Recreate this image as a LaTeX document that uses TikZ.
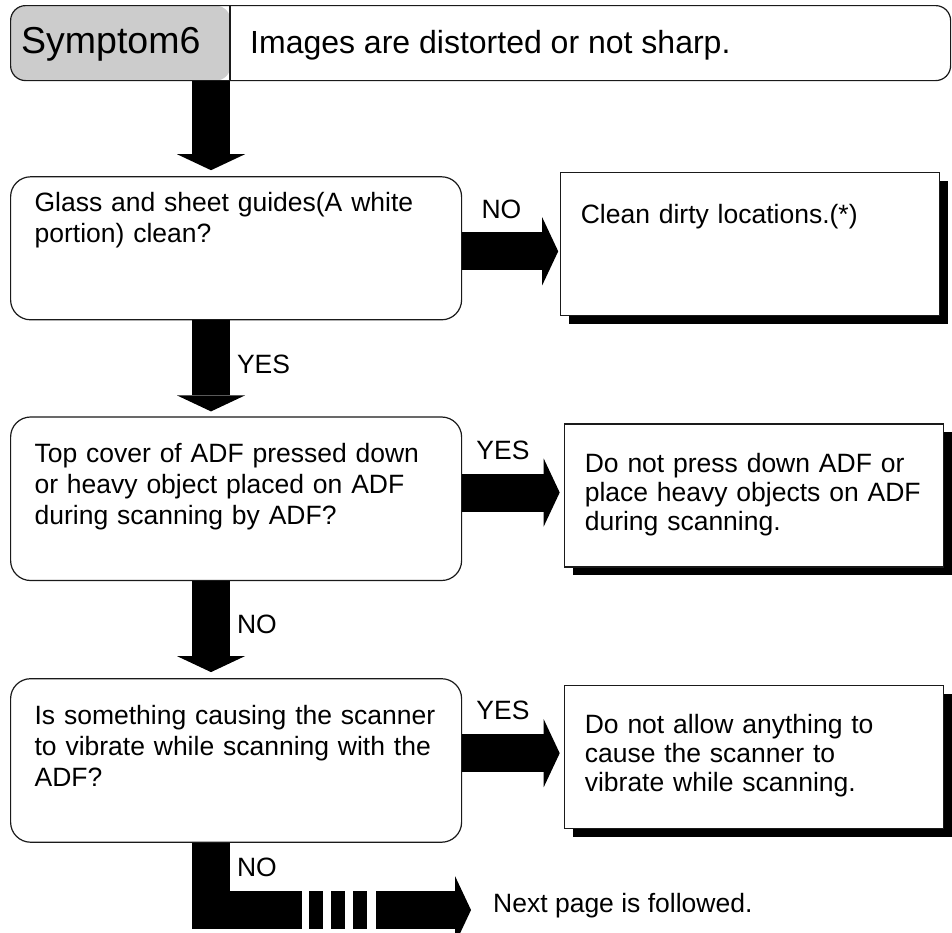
\documentclass[tikz,border=0pt]{standalone}
\usepackage{fontspec}
\setmainfont{Liberation Sans}
\usetikzlibrary{arrows.meta,positioning,shadows,calc}
\definecolor{symgray}{HTML}{CCCCCC}
\definecolor{edge}{HTML}{1A1A1A}
\newcommand{\hdrsize}{\fontsize{37.5}{42}\selectfont}
\newcommand{\bodysize}{\fontsize{26.5}{31}\selectfont}

\begin{document}
\begin{tikzpicture}[
  x=1pt, y=-1pt,
  font=\bodysize,
  hdr/.style={draw=edge, line width=1.2pt, rounded corners=15pt, fill=white,
              minimum width=940pt, minimum height=75pt, inner sep=0pt},
  qbox/.style={draw=edge, line width=1.2pt, rounded corners=20pt, fill=white,
               text width=403pt, inner xsep=24pt, inner ysep=0pt, align=left,
               text height=45.5pt, text depth=118pt},
  rbox/.style={draw=edge, line width=1.2pt, fill=white,
               drop shadow={shadow xshift=8pt, shadow yshift=-8pt,
                            fill=black, opacity=1},
               text width=339pt, inner xsep=20pt, inner ysep=0pt, align=left,
               font=\fontsize{26.5}{29}\selectfont,
               text height=48pt, text depth=95pt},
  fat/.style={line width=38pt, black},
  fatarr/.style={fat, -{Triangle[width=68pt, length=16pt, line width=0pt]}},
  lbl/.style={inner sep=0pt, outer sep=0pt}
]
\fill[white] (0,0) rectangle (952,932);
\useasboundingbox (0,0) rectangle (952,932);

% ---- header ----
\node[hdr, anchor=north west,
      path picture={\fill[symgray] (path picture bounding box.north west)
        rectangle ([xshift=220pt]path picture bounding box.south west);}]
  (head) at (10,5) {};
\draw[edge, line width=1.2pt] ([xshift=220pt]head.north west)
  -- ([xshift=220pt]head.south west);
\node[font=\hdrsize, anchor=base west, inner sep=0pt] (sym) at (21,53) {Symptom6};
\node[font=\fontsize{32}{37}\selectfont, anchor=base west, inner sep=0pt]
  (title) at (250,53) {Images are distorted or not sharp.};

\coordinate (stem) at (211,0);

% ---- questions ----
\node[qbox, below=95pt of head.south west, anchor=north west,
      text height=34.5pt, text depth=108.5pt] (q1)
  {Glass and sheet guides(A white\\portion) clean?};
\node[qbox, below=96pt of q1.south west, anchor=north west] (q2)
  {Top cover of ADF pressed down\\or heavy object placed on ADF\\during scanning by ADF?};
\node[qbox, below=97pt of q2.south west, anchor=north west] (q3)
  {Is something causing the scanner\\to vibrate while scanning with the\\ADF?};

% ---- remedies ----
\node[rbox, right=98pt of q1.north east, anchor=north west, yshift=4pt,
      text height=51pt, text depth=92pt] (r1)
  {Clean dirty locations.(*)};
\node[rbox, right=102pt of q2.north east, anchor=north west, yshift=-7pt] (r2)
  {Do not press down ADF or\\place heavy objects on ADF\\during scanning.};
\node[rbox, right=102pt of q3.north east, anchor=north west, yshift=-7pt] (r3)
  {Do not allow anything to\\cause the scanner to\\vibrate while scanning.};

\node[anchor=west, inner sep=0pt] (next) at (493,906) {Next page is followed.};

% arrows
\draw[fatarr, shorten >=6pt] (head.south -| stem) -- (q1.north -| stem);
\draw[fatarr, shorten >=5pt] (q1.south -| stem)
  -- node[lbl, right=26pt, pos=0.46] (yes1) {YES} (q2.north -| stem);
\draw[fatarr, shorten >=6pt] (q2.south -| stem)
  -- node[lbl, right=26pt, pos=0.45] (no2) {NO} (q3.north -| stem);

\draw[fatarr, shorten >=2pt] ($(q1.east |- r1.west)+(0,7)$)
  -- node[lbl, above=33pt, pos=0.4] (no1) {NO} ($(r1.west)+(0,7)$);
\draw[fatarr, shorten >=4.5pt] ($(q2.east |- r2.west)+(0,-3)$)
  -- node[lbl, above=33pt, pos=0.4] (yes2) {YES} ($(r2.west)+(0,-3)$);
\draw[fatarr, shorten >=4.5pt] ($(q3.east |- r3.west)+(0,-4)$)
  -- node[lbl, above=33pt, pos=0.4] (yes3) {YES} ($(r3.west)+(0,-4)$);

% broken connector to next page
\coordinate (brk1) at (302,910);
\coordinate (brk2) at (376,910);
\draw[fat] (q3.south -| stem) |- node[lbl, right=26pt, pos=0.18] (no3) {NO} (brk1);
\draw[fat, dash pattern=on 14pt off 8pt] ($(brk1)+(7,0)$) -- ($(brk2)+(-9,0)$);
\draw[fatarr, shorten >=22pt] (brk2) -- (brk2 -| next.west);
\end{tikzpicture}
\end{document}
